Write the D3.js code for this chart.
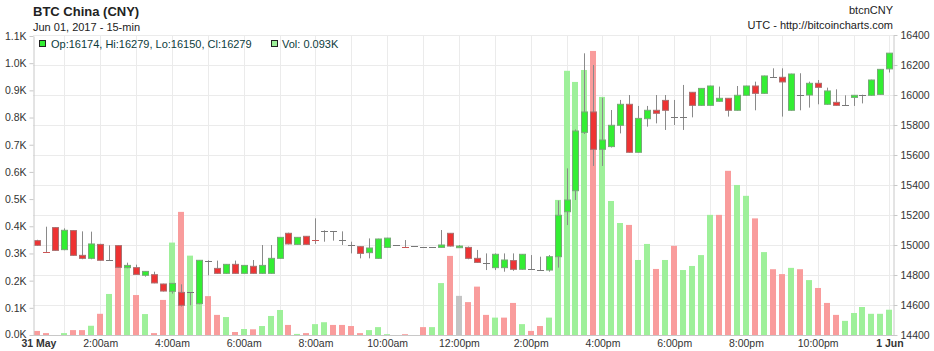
<!DOCTYPE html>
<html>
<head>
<meta charset="utf-8">
<script src="https://cdn.jsdelivr.net/npm/d3@7"></script>
<style>
  body { margin: 0; background: #fff; }
  text { font-family: "Liberation Sans", Arial, sans-serif; }
</style>
</head>
<body>
<div id="chart"></div>
<script>
// 15-min candles, 31 May 2017 00:15 .. 1 Jun 00:00 (UTC)
const openP = [
  15029, 14956, 15116, 14969, 15096, 14931, 14911, 15004, 14900, 14996, 14849, 14849,
  14798, 14802, 14740, 14691, 14684, 14684, 14609, 14895, 14844, 14811, 14871, 14811,
  14858, 14811, 14811, 14911, 15078, 15004, 15058, 15042, 15096, 15091, 15033, 15000,
  14989, 14949, 14911, 14984, 15000, 14993, 14996, 14987, 14990, 14984, 15078, 14982,
  14984, 14911, 14880, 14849, 14849, 14896, 14838, 14838, 14835, 14833, 14922, 15222,
  15362, 15751, 15887, 15638, 15656, 15798, 15938, 15618, 15842, 15898, 15964, 15851,
  15853, 16018, 15931, 15931, 15958, 15978, 15898, 15998, 16060, 16011, 16122, 16118,
  15898, 16000, 16000, 16078, 15938, 15951, 15933, 15984, 16000, 15998, 16004, 16174
];
const highP = [
  15035, 15122, 15120, 15111, 15100, 15091, 15089, 15008, 14998, 15000, 14882, 14869,
  14826, 14822, 14742, 14746, 14738, 14686, 14900, 14898, 14896, 14873, 14896, 14866,
  14900, 15000, 15000, 15053, 15082, 15053, 15060, 15178, 15098, 15093, 15091, 15022,
  14992, 15044, 15042, 15048, 15000, 15033, 14996, 14987, 14990, 15100, 15080, 15000,
  14990, 14967, 14944, 14944, 14944, 14944, 14940, 14933, 14922, 14933, 15296, 15511,
  15770, 16278, 16200, 15982, 15900, 15967, 16000, 15927, 15927, 16000, 16000, 15967,
  16067, 16020, 16046, 16062, 16056, 15980, 16060, 16062, 16089, 16129, 16178, 16178,
  16142, 16145, 16089, 16100, 16049, 16038, 15998, 16000, 16002, 16102, 16173, 16279
];
const lowP = [
  14995, 14950, 14960, 14965, 14928, 14905, 14905, 14895, 14898, 14848, 14845, 14800,
  14789, 14745, 14690, 14676, 14590, 14598, 14605, 14798, 14808, 14808, 14808, 14808,
  14808, 14808, 14808, 14908, 15004, 15000, 15000, 15007, 15022, 15029, 15000, 14944,
  14911, 14911, 14908, 14982, 15000, 14982, 14996, 14987, 14990, 14982, 14990, 14980,
  14905, 14880, 14833, 14833, 14822, 14828, 14835, 14836, 14833, 14822, 14849, 15133,
  15300, 15740, 15527, 15527, 15650, 15744, 15615, 15615, 15789, 15811, 15767, 15800,
  15767, 15851, 15928, 15928, 15955, 15856, 15895, 15995, 15898, 16008, 16120, 15856,
  15895, 15898, 15916, 15938, 15935, 15928, 15930, 15927, 15944, 15995, 16000, 16150
];
const closeP = [
  14998, 14955, 14964, 15098, 14931, 14911, 15007, 14898, 14900, 14851, 14864, 14804,
  14824, 14747, 14693, 14744, 14598, 14684, 14898, 14895, 14811, 14871, 14811, 14864,
  14811, 14864, 14911, 15051, 15007, 15051, 15004, 15033, 15096, 15091, 15033, 15000,
  14944, 14980, 15040, 15046, 15000, 14984, 14996, 14987, 14990, 15000, 14993, 14993,
  14911, 14884, 14880, 14938, 14900, 14838, 14938, 14838, 14835, 14922, 15198, 15300,
  15760, 15887, 15638, 15700, 15798, 15938, 15618, 15844, 15898, 15878, 15898, 15851,
  15853, 15931, 16044, 16060, 15978, 15898, 15998, 16060, 16011, 16127, 16122, 16087,
  16140, 16000, 16078, 16051, 16027, 15931, 15933, 15998, 16000, 16100, 16171, 16279
];
// volume in thousands
const volumeK = [
  0.015, 0.007, 0, 0.007, 0.018, 0.018, 0.034, 0.078, 0.151, 0.251, 0.255, 0.147,
  0.077, 0.007, 0.129, 0.340, 0.453, 0.292, 0.270, 0.143, 0.074, 0.066, 0.011, 0.022,
  0.021, 0.033, 0.070, 0.092, 0.037, 0.004, 0.007, 0.040, 0.047, 0.037, 0.037, 0.033,
  0.007, 0.018, 0.029, 0.003, 0, 0.003, 0, 0.029, 0.029, 0.191, 0.291, 0.144,
  0.121, 0.178, 0.074, 0.064, 0.064, 0.118, 0.040, 0.015, 0.033, 0.064, 0.497, 0.972,
  0.931, 0.975, 1.045, 0.876, 0.493, 0.412, 0.405, 0.276, 0.335, 0.243, 0.276, 0.328,
  0.239, 0.254, 0.294, 0.442, 0.442, 0.604, 0.552, 0.512, 0.429, 0.305, 0.242, 0.224,
  0.247, 0.242, 0.202, 0.173, 0.118, 0.074, 0.052, 0.081, 0.103, 0.078, 0.078, 0.093
];
const volTicks = [0, 0.1, 0.2, 0.3, 0.4, 0.5, 0.6, 0.7, 0.8, 0.9, 1.0, 1.1];
const priceTicks = [14400, 14600, 14800, 15000, 15200, 15400, 15600, 15800, 16000, 16200, 16400];

const width = 934, height = 351;
const plot = { left: 33, right: 893, top: 35, bottom: 335 };

const svg = d3.select("#chart").append("svg")
  .attr("width", width)
  .attr("height", height);

const start = new Date(Date.UTC(2017, 4, 31));
const end   = new Date(Date.UTC(2017, 5, 1));
const times = d3.utcMinute.every(15).range(d3.utcMinute.offset(start, 15), d3.utcMinute.offset(end, 1));

const x = d3.scaleUtc().domain([start, end]).range([28.4, 889.4]);
const yPrice = d3.scaleLinear().domain([14400, 16400]).range([plot.bottom, plot.top]);
const yVol = d3.scaleLinear().domain([0, 1.1]).range([plot.bottom, 36]);

const bars = times.map((t, i) => ({
  t, o: openP[i], h: highP[i], l: lowP[i], c: closeP[i], v: volumeK[i],
  prev: i ? closeP[i - 1] : openP[i]
}));

// grid
const grid = svg.append("g");
grid.selectAll("line.h")
  .data(priceTicks)
  .enter().append("line")
  .attr("x1", plot.left).attr("x2", plot.right)
  .attr("y1", d => Math.round(yPrice(d)) + 0.5)
  .attr("y2", d => Math.round(yPrice(d)) + 0.5)
  .attr("stroke", "#ebebeb");
grid.selectAll("line.v")
  .data(d3.utcHour.range(start, d3.utcHour.offset(end, 1)).filter(d => x(d) > plot.left && x(d) < plot.right))
  .enter().append("line")
  .attr("x1", d => Math.round(x(d)) + 0.5)
  .attr("x2", d => Math.round(x(d)) + 0.5)
  .attr("y1", plot.top).attr("y2", plot.bottom)
  .attr("stroke", "#ebebeb");

// volume
const volColor = d => d.c > d.prev ? "#9ef09a" : d.c < d.prev ? "#f99c9c" : "#c4c4c4";
svg.append("g").selectAll("rect")
  .data(bars.filter(d => d.v > 0))
  .enter().append("rect")
  .attr("x", d => Math.round(x(d.t)) - 3)
  .attr("width", 6)
  .attr("y", d => yVol(d.v))
  .attr("height", d => plot.bottom - yVol(d.v))
  .attr("fill", volColor);

// candles
const candle = svg.append("g").selectAll("g")
  .data(bars)
  .enter().append("g");

candle.append("line")
  .attr("x1", d => Math.round(x(d.t)) + 0.5)
  .attr("x2", d => Math.round(x(d.t)) + 0.5)
  .attr("y1", d => yPrice(d.h))
  .attr("y2", d => yPrice(d.l))
  .attr("stroke", "#8a8a8a");

candle.filter(d => Math.abs(yPrice(d.o) - yPrice(d.c)) >= 1.5)
  .append("rect")
  .attr("x", d => Math.round(x(d.t)) - 2.5)
  .attr("width", 6)
  .attr("y", d => yPrice(Math.max(d.o, d.c)))
  .attr("height", d => Math.abs(yPrice(d.o) - yPrice(d.c)))
  .attr("fill", d => d.c >= d.o ? "#33ee33" : "#ee3333")
  .attr("stroke", d => d.c >= d.o ? "#77aa77" : "#aa7070")
  .attr("stroke-width", 1);

candle.filter(d => Math.abs(yPrice(d.o) - yPrice(d.c)) < 1.5)
  .append("line")
  .attr("x1", d => Math.round(x(d.t)) - 3)
  .attr("x2", d => Math.round(x(d.t)) + 4)
  .attr("y1", d => Math.round(yPrice(d.c)) + 0.5)
  .attr("y2", d => Math.round(yPrice(d.c)) + 0.5)
  .attr("stroke", d => d.c > d.o ? "#55bb55" : d.c < d.o ? "#cc5555" : "#777");

// axes
const leftAxis = svg.append("g")
  .attr("transform", `translate(${plot.left + 0.5},0)`)
  .call(d3.axisLeft(yVol).tickValues(volTicks).tickSize(4).tickSizeOuter(0)
    .tickFormat(d => d.toFixed(1) + "K"));

const rightAxis = svg.append("g")
  .attr("transform", `translate(${plot.right + 0.5},0)`)
  .call(d3.axisRight(yPrice).tickValues(priceTicks).tickSize(4).tickSizeOuter(0)
    .tickFormat(d3.format("d")));

const fmtHour = d3.utcFormat("%-I:%M%p");
const fmtDay = d3.utcFormat("%-d %b");
const bottomAxis = svg.append("g")
  .attr("transform", `translate(0,${plot.bottom})`)
  .call(d3.axisBottom(x).tickValues(d3.utcHour.every(2).range(start, d3.utcHour.offset(end, 1)))
    .tickSize(0)
    .tickFormat(d => d.getUTCHours() === 0 ? fmtDay(d) : fmtHour(d).toLowerCase()));
bottomAxis.select(".domain").remove();
bottomAxis.selectAll(".tick text")
  .attr("y", 4.5)
  .attr("font-weight", d => d.getUTCHours() === 0 ? "bold" : null)
  .attr("dx", (d, i) => i === 0 ? 10 : 0);

svg.append("line")
  .attr("x1", plot.left).attr("x2", plot.right + 1)
  .attr("y1", plot.bottom + 0.5).attr("y2", plot.bottom + 0.5)
  .attr("stroke", "#c8c8c8");

[leftAxis, rightAxis, bottomAxis].forEach(a => {
  a.selectAll(".domain").attr("stroke", "#c8c8c8");
  a.selectAll(".tick line").attr("stroke", "#c8c8c8");
  a.selectAll(".tick text").attr("fill", "#333").attr("font-size", 10.5)
    .attr("font-family", '"Liberation Sans", Arial, sans-serif');
});
leftAxis.selectAll(".tick text").filter(d => d === 0).attr("dy", "0.2em");

// titles
svg.append("text")
  .attr("x", 33).attr("y", 16)
  .attr("font-size", 13).attr("font-weight", "bold").attr("fill", "#222")
  .text("BTC China (CNY)");
svg.append("text")
  .attr("x", 33).attr("y", 31)
  .attr("font-size", 11).attr("fill", "#222")
  .text("Jun 01, 2017 - 15-min");
svg.append("text")
  .attr("x", 893).attr("y", 14).attr("text-anchor", "end")
  .attr("font-size", 11).attr("fill", "#222")
  .text("btcnCNY");
svg.append("text")
  .attr("x", 893).attr("y", 29).attr("text-anchor", "end")
  .attr("font-size", 11).attr("fill", "#222")
  .text("UTC - http://bitcoincharts.com");

// legend
const last = bars[bars.length - 1];
svg.append("rect")
  .attr("x", 39.5).attr("y", 40.5).attr("width", 6).attr("height", 6)
  .attr("fill", "#33ee33").attr("stroke", "#222");
svg.append("text")
  .attr("x", 51).attr("y", 48)
  .attr("font-size", 11).attr("fill", "#0c3c3c")
  .text(`Op:${last.o}, Hi:${last.h}, Lo:${last.l}, Cl:${last.c}`);
svg.append("rect")
  .attr("x", 271.5).attr("y", 40.5).attr("width", 6).attr("height", 6)
  .attr("fill", "#9ef09a").attr("stroke", "#222");
svg.append("text")
  .attr("x", 282).attr("y", 48)
  .attr("font-size", 11).attr("fill", "#0c3c3c")
  .text(`Vol: ${last.v.toFixed(3)}K`);
</script>
</body>
</html>
